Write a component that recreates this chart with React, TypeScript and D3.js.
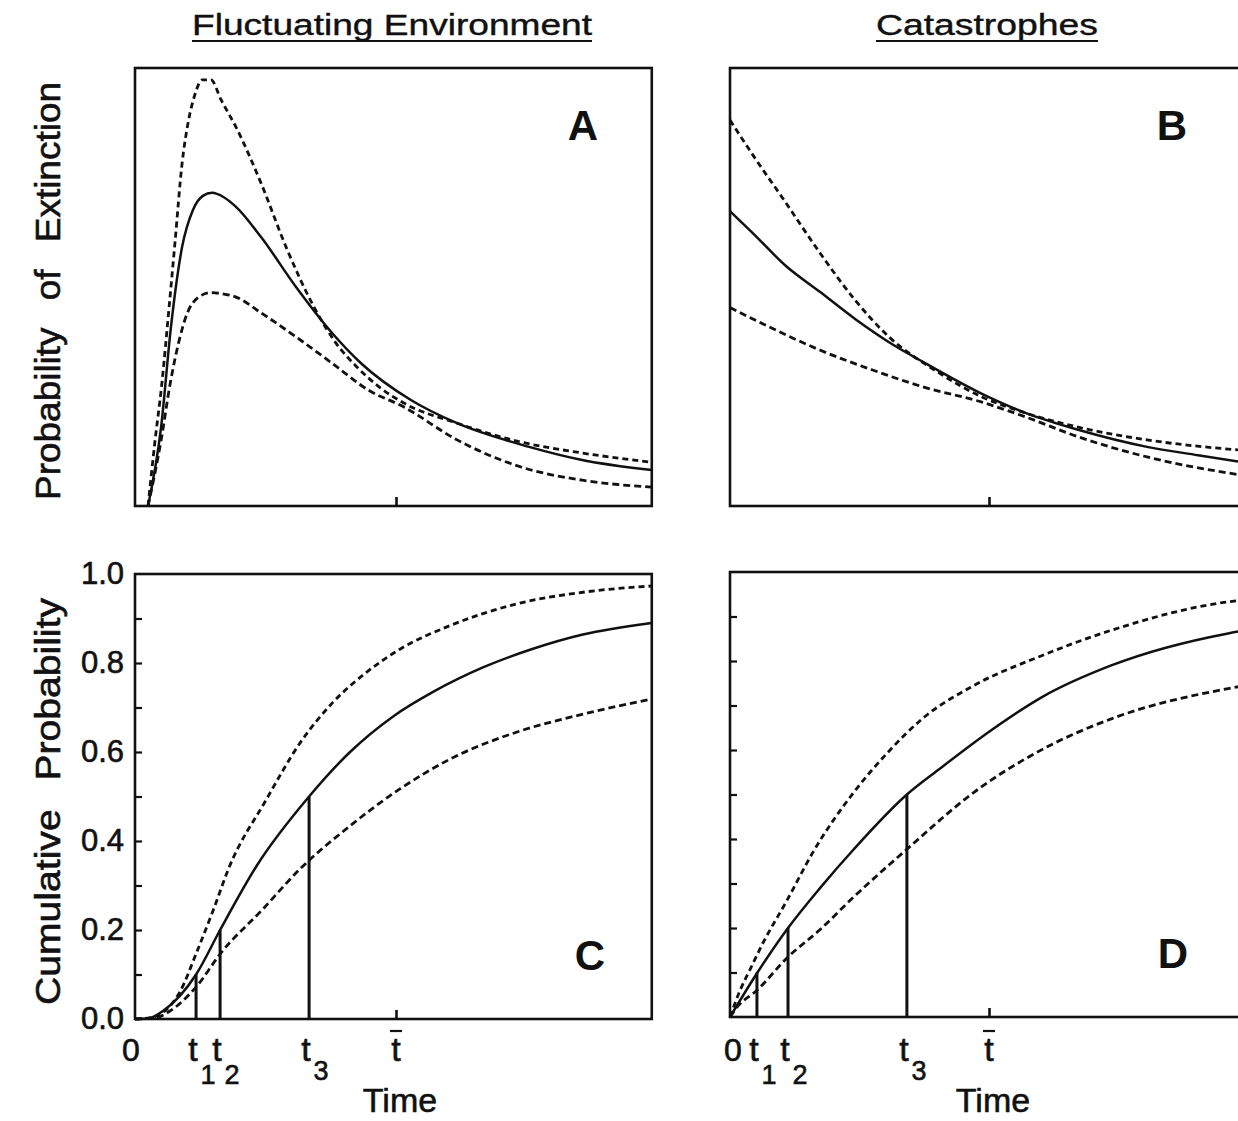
import { useEffect, useRef } from "react";
import * as d3 from "d3";

type Pt = [number, number];

// time is in units of the mean extinction time (t-bar = 1)
const T_MAX = 1.98;

// A: probability of extinction, fluctuating environment
const aUpper: Pt[] = [
  [0.05, 0], [0.075, 0.14], [0.103, 0.28], [0.13, 0.45], [0.153, 0.6], [0.18, 0.78],
  [0.205, 0.88], [0.23, 0.94], [0.257, 0.973], [0.291, 0.973], [0.33, 0.927], [0.387, 0.865],
  [0.483, 0.737], [0.579, 0.591], [0.686, 0.454], [0.77, 0.372], [0.851, 0.317], [0.935, 0.272],
  [1.03, 0.235], [1.234, 0.189], [1.479, 0.146], [1.713, 0.121], [1.98, 0.1],
];
const aMid: Pt[] = [
  [0.05, 0], [0.1, 0.18], [0.138, 0.41], [0.18, 0.59], [0.222, 0.676], [0.26, 0.708],
  [0.295, 0.715], [0.34, 0.705], [0.387, 0.683], [0.483, 0.614], [0.617, 0.5], [0.755, 0.395],
  [0.866, 0.326], [1.057, 0.242], [1.234, 0.189], [1.51, 0.135], [1.713, 0.105], [1.98, 0.082],
];
const aLower: Pt[] = [
  [0.05, 0], [0.1, 0.15], [0.135, 0.28], [0.17, 0.38], [0.2, 0.44], [0.24, 0.475],
  [0.29, 0.487], [0.33, 0.485], [0.387, 0.477], [0.483, 0.441], [0.617, 0.386], [0.755, 0.326],
  [0.893, 0.265], [1.03, 0.226], [1.234, 0.151], [1.479, 0.089], [1.713, 0.059], [1.98, 0.043],
];

// B: probability of extinction, catastrophes
const bUpper: Pt[] = [
  [0, 0.881], [0.083, 0.806], [0.216, 0.692], [0.347, 0.578], [0.483, 0.47], [0.614, 0.386],
  [0.788, 0.311], [0.973, 0.249], [1.143, 0.212], [1.344, 0.18], [1.61, 0.151], [1.98, 0.127],
];
const bMid: Pt[] = [
  [0, 0.673], [0.083, 0.626], [0.216, 0.548], [0.347, 0.489], [0.483, 0.427], [0.614, 0.374],
  [0.745, 0.329], [0.973, 0.256], [1.143, 0.212], [1.344, 0.174], [1.61, 0.135], [1.807, 0.116],
  [1.98, 0.1],
];
const bLower: Pt[] = [
  [0, 0.453], [0.151, 0.409], [0.347, 0.356], [0.548, 0.311], [0.745, 0.272], [0.973, 0.237],
  [1.143, 0.203], [1.344, 0.158], [1.61, 0.112], [1.98, 0.07],
];

// C: cumulative probability, fluctuating environment
const cUpper: Pt[] = [
  [0, 0], [0.06, 0.003], [0.122, 0.022], [0.172, 0.061], [0.237, 0.151], [0.3, 0.245],
  [0.36, 0.34], [0.5, 0.49], [0.632, 0.62], [0.759, 0.712], [0.889, 0.78], [1.015, 0.831],
  [1.207, 0.884], [1.464, 0.933], [1.716, 0.959], [1.98, 0.973],
];
const cMid: Pt[] = [
  [0, 0], [0.05, 0.001], [0.107, 0.018], [0.172, 0.052], [0.234, 0.1], [0.326, 0.2],
  [0.467, 0.345], [0.667, 0.5], [0.824, 0.6], [0.989, 0.68], [1.142, 0.735], [1.333, 0.79],
  [1.525, 0.832], [1.716, 0.864], [1.98, 0.89],
];
const cLower: Pt[] = [
  [0, 0], [0.08, 0.003], [0.134, 0.018], [0.237, 0.074], [0.326, 0.146], [0.49, 0.247],
  [0.632, 0.337], [0.824, 0.434], [1.015, 0.517], [1.207, 0.584], [1.464, 0.645], [1.716, 0.685],
  [1.98, 0.719],
];

// D: cumulative probability, catastrophes
const dUpper: Pt[] = [
  [0, 0], [0.039, 0.06], [0.08, 0.11], [0.127, 0.166], [0.22, 0.262], [0.32, 0.37],
  [0.478, 0.505], [0.61, 0.595], [0.742, 0.67], [0.942, 0.745], [1.208, 0.813], [1.472, 0.869],
  [1.923, 0.933], [1.98, 0.937],
];
const dMid: Pt[] = [
  [0, 0], [0.106, 0.1], [0.224, 0.2], [0.345, 0.288], [0.478, 0.377], [0.683, 0.5],
  [0.81, 0.558], [1.01, 0.645], [1.208, 0.72], [1.472, 0.79], [1.923, 0.862], [1.98, 0.868],
];
const dLower: Pt[] = [
  [0, 0], [0.027, 0.022], [0.104, 0.06], [0.224, 0.135], [0.347, 0.196], [0.478, 0.27],
  [0.683, 0.377], [0.942, 0.505], [1.208, 0.602], [1.472, 0.67], [1.923, 0.738], [1.98, 0.744],
];

// times t1, t2, t3 and the cumulative levels they mark
const markLevels = [0.1, 0.2, 0.5];
const cMarkTimes = [0.234, 0.326, 0.667];
const dMarkTimes = [0.104, 0.224, 0.683];

const cumTicks = [0, 0.2, 0.4, 0.6, 0.8, 1.0];
const cumMinorTicks = [0.1, 0.2, 0.3, 0.4, 0.5, 0.6, 0.7, 0.8, 0.9];

const FONT = "'Liberation Sans', Arial, Helvetica, sans-serif";
const INK = "#111";

const UPPER_DASH = "6,4";
const LOWER_DASH = "7,4";

export default function App() {
  const svgRef = useRef<SVGSVGElement | null>(null);

  useEffect(() => {
    if (!svgRef.current) return;
    const svg = d3.select(svgRef.current);
    svg.selectAll("*").remove();

    // slightly heavier text, like the printed figure
    const label = (sel: any, size: number) =>
      sel
        .attr("font-family", FONT)
        .attr("font-size", size)
        .attr("fill", INK)
        .attr("stroke", INK)
        .attr("stroke-width", 0.6);

    const panels = [
      { key: "A", left: 135, unit: 261, top: 68, bottom: 506, series: [aUpper, aMid, aLower], letter: [583, 140], cum: false },
      { key: "B", left: 730, unit: 259, top: 68, bottom: 506, series: [bUpper, bMid, bLower], letter: [1172, 140], cum: false },
      { key: "C", left: 135, unit: 261, top: 574, bottom: 1019, series: [cUpper, cMid, cLower], letter: [590, 970], cum: true, marks: cMarkTimes, labels: true },
      { key: "D", left: 730, unit: 259, top: 572, bottom: 1017, series: [dUpper, dMid, dLower], letter: [1173, 968], cum: true, marks: dMarkTimes, labels: false },
    ];

    panels.forEach((p) => {
      const x = d3.scaleLinear().domain([0, T_MAX]).range([p.left, p.left + T_MAX * p.unit]);
      const y = d3.scaleLinear().domain([0, 1]).range([p.bottom, p.top]);
      const g = svg.append("g");

      // frame
      g.append("rect")
        .attr("x", x(0))
        .attr("y", y(1))
        .attr("width", x(T_MAX) - x(0))
        .attr("height", y(0) - y(1))
        .attr("fill", "none")
        .attr("stroke", INK)
        .attr("stroke-width", 2.6);

      // t-bar tick on the time axis
      const xAxis = g.append("g")
        .attr("transform", `translate(0,${y(0)})`)
        .call(d3.axisBottom(x).tickValues([1]).tickSizeInner(-9).tickSizeOuter(0).tickFormat(() => ""));
      xAxis.select(".domain").remove();
      xAxis.selectAll("line").attr("stroke", INK).attr("stroke-width", 2.6);

      const line = d3.line<Pt>()
        .x((d) => x(d[0]))
        .y((d) => y(d[1]))
        .curve(d3.curveMonotoneX);

      const dashes = [UPPER_DASH, null, LOWER_DASH];
      p.series.forEach((s, i) => {
        g.append("path")
          .datum(s)
          .attr("d", line)
          .attr("fill", "none")
          .attr("stroke", INK)
          .attr("stroke-width", dashes[i] ? 2.8 : 2.5)
          .attr("stroke-dasharray", dashes[i]);
      });

      if (p.cum) {
        const minor = g.append("g")
          .attr("transform", `translate(${x(0)},0)`)
          .call(d3.axisRight(y).tickValues(cumMinorTicks).tickSizeInner(7).tickSizeOuter(0).tickFormat(() => ""));
        minor.select(".domain").remove();
        minor.selectAll("line").attr("stroke", INK).attr("stroke-width", 2.2);

        if (p.labels) {
          const lab = g.append("g")
            .attr("transform", `translate(${x(0)},0)`)
            .call(d3.axisLeft(y).tickValues(cumTicks).tickSize(0).tickPadding(11).tickFormat(d3.format(".1f")));
          lab.select(".domain").remove();
          label(lab.selectAll("text"), 31);
        }

        // vertical lines at t1, t2, t3
        g.selectAll("line.mark")
          .data(p.marks!)
          .join("line")
          .attr("class", "mark")
          .attr("x1", (d) => x(d))
          .attr("x2", (d) => x(d))
          .attr("y1", y(0))
          .attr("y2", (_, i) => y(markLevels[i]))
          .attr("stroke", INK)
          .attr("stroke-width", 3);

        // time labels
        const base = 1061;
        label(g.append("text"), 32)
          .attr("x", x(0) + (p.labels ? -4 : 3))
          .attr("y", base)
          .attr("text-anchor", "middle")
          .text("0");
        p.marks!.forEach((t, i) => {
          label(g.append("text"), 34)
            .attr("x", x(t) - 3)
            .attr("y", base)
            .attr("text-anchor", "middle")
            .text("t");
          label(g.append("text"), 27)
            .attr("x", x(t) + 12)
            .attr("y", i === 2 ? base + 19 : base + 23)
            .attr("text-anchor", "middle")
            .text(String(i + 1));
        });
        label(g.append("text"), 34)
          .attr("x", x(1))
          .attr("y", base)
          .attr("text-anchor", "middle")
          .text("t");
        g.append("line")
          .attr("x1", x(1) - 6)
          .attr("x2", x(1) + 6)
          .attr("y1", base - 30)
          .attr("y2", base - 30)
          .attr("stroke", INK)
          .attr("stroke-width", 2.2);

        label(g.append("text"), 34)
          .attr("x", x(1) + 4)
          .attr("y", 1112)
          .attr("text-anchor", "middle")
          .text("Time");
      }

      g.append("text")
        .attr("x", p.letter[0])
        .attr("y", p.letter[1])
        .attr("text-anchor", "middle")
        .attr("font-family", FONT)
        .attr("font-size", 42)
        .attr("font-weight", "bold")
        .attr("fill", INK)
        .text(p.key);
    });

    // column titles
    const titles = [
      { text: "Fluctuating Environment", x0: 192, x1: 592 },
      { text: "Catastrophes", x0: 876, x1: 1098 },
    ];
    titles.forEach((t) => {
      label(svg.append("text"), 29)
        .attr("x", t.x0)
        .attr("y", 35)
        .attr("stroke-width", 0.4)
        .attr("textLength", t.x1 - t.x0)
        .attr("lengthAdjust", "spacingAndGlyphs")
        .text(t.text);
      svg.append("line")
        .attr("x1", t.x0)
        .attr("x2", t.x1)
        .attr("y1", 41)
        .attr("y2", 41)
        .attr("stroke", INK)
        .attr("stroke-width", 2);
    });

    // y-axis titles
    const yTitles = [
      { text: "Probability of Extinction", y0: 500, y1: 82 },
      { text: "Cumulative Probability", y0: 1005, y1: 598 },
    ];
    yTitles.forEach((t) => {
      label(svg.append("text"), 35)
        .attr("transform", `translate(60,${t.y0}) rotate(-90)`)
        .attr("word-spacing", 16)
        .attr("textLength", t.y0 - t.y1)
        .attr("lengthAdjust", "spacingAndGlyphs")
        .text(t.text);
    });
  }, []);

  return (
    <svg
      ref={svgRef}
      width={1238}
      height={1121}
      style={{ position: "absolute", left: 0, top: 0, background: "#fff" }}
    />
  );
}
